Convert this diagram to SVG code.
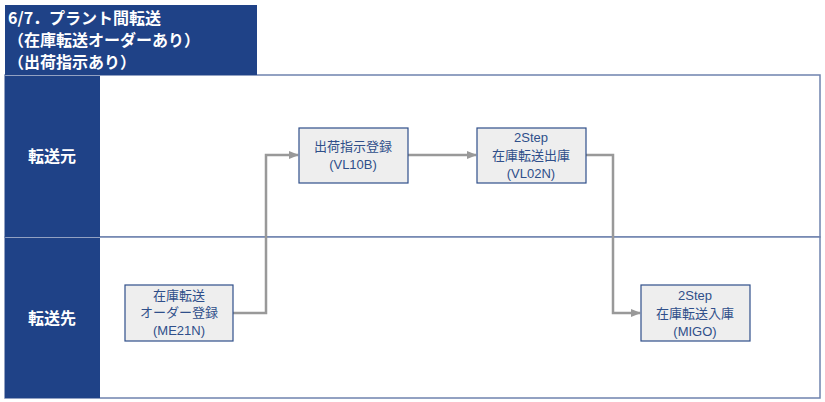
<svg xmlns="http://www.w3.org/2000/svg" width="825" height="402" viewBox="0 0 825 402">
<style>
.hdr{fill:#1F4287}
.ht{fill:#fff;font-family:"Noto Sans CJK JP","Noto Sans",sans-serif;font-weight:bold;font-size:16px}
.lt{fill:#fff;font-family:"Noto Sans CJK JP","Noto Sans",sans-serif;font-weight:bold;font-size:16px;text-anchor:middle}
.lane{fill:#fff;stroke:#6F83AE;stroke-width:1.5}
.box{fill:#EEEEEE;stroke:#2F4F8A;stroke-width:1.2}
.bt{fill:#2F4F8A;font-family:"Liberation Sans","Noto Sans CJK JP",sans-serif;font-size:13px;text-anchor:middle}
.c{fill:none;stroke:#999;stroke-width:2.5;marker-end:url(#a)}
</style>
<defs><marker id="a" markerWidth="10" markerHeight="8" refX="9" refY="4" orient="auto" markerUnits="userSpaceOnUse"><path d="M0,0L10,4L0,8z" fill="#999"/></marker></defs>
<g id="lanes">
<rect class="lane" x="5" y="75" width="815" height="162"/>
<rect class="lane" x="5" y="237" width="815" height="161"/>
<rect class="hdr" x="5" y="5" width="252" height="70"/>
<text class="ht" x="8" y="24">6/7．プラント間転送</text>
<text class="ht" x="8" y="46">（在庫転送オーダーあり）</text>
<text class="ht" x="8" y="68">（出荷指示あり）</text>
<rect class="hdr" x="5" y="76" width="95" height="161"/>
<rect class="hdr" x="5" y="238" width="95" height="160"/>
<text class="lt" x="52" y="162">転送元</text>
<text class="lt" x="52" y="324">転送先</text>
</g>
<g id="connectors">
<path class="c" d="M233,313H266V155H298"/>
<path class="c" d="M408,155H476"/>
<path class="c" d="M586,155H613V313H640"/>
</g>
<g id="n1"><rect class="box" x="125" y="285" width="108" height="56"/>
<text class="bt" x="179" y="300">在庫転送</text><text class="bt" x="179" y="317">オーダー登録</text><text class="bt" x="179" y="335">(ME21N)</text></g>
<g id="n2"><rect class="box" x="299" y="128" width="109" height="55"/>
<text class="bt" x="353" y="151">出荷指示登録</text><text class="bt" x="353" y="169">(VL10B)</text></g>
<g id="n3"><rect class="box" x="477" y="128" width="109" height="55"/>
<text class="bt" x="531" y="142">2Step</text><text class="bt" x="531" y="160">在庫転送出庫</text><text class="bt" x="531" y="178">(VL02N)</text></g>
<g id="n4"><rect class="box" x="641" y="285" width="109" height="56"/>
<text class="bt" x="695" y="300">2Step</text><text class="bt" x="695" y="318">在庫転送入庫</text><text class="bt" x="695" y="336">(MIGO)</text></g>
</svg>
